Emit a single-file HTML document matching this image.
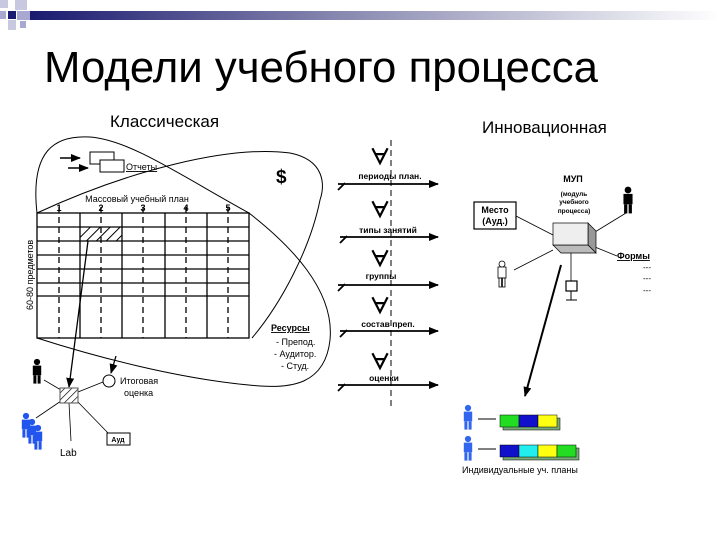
<!DOCTYPE html>
<html><head><meta charset="utf-8"><style>
html,body{margin:0;padding:0;background:#fff;}
svg{display:block;}
text{font-family:"Liberation Sans","Noto Sans CJK SC",sans-serif;}
</style></head><body>
<svg width="720" height="540" viewBox="0 0 720 540" xmlns="http://www.w3.org/2000/svg">
<defs>
<linearGradient id="bar" x1="0" x2="1" y1="0" y2="0">
<stop offset="0" stop-color="#1a1a70"/><stop offset="0.45" stop-color="#8888b0"/><stop offset="1" stop-color="#ffffff"/>
</linearGradient>
<pattern id="hatch" width="7" height="7" patternUnits="userSpaceOnUse" patternTransform="rotate(45)">
<rect width="7" height="7" fill="#fff"/><line x1="0" y1="0" x2="0" y2="7" stroke="#000" stroke-width="2"/>
</pattern>
<pattern id="hatch2" width="5" height="5" patternUnits="userSpaceOnUse" patternTransform="rotate(45)">
<rect width="5" height="5" fill="#fff"/><line x1="0" y1="0" x2="0" y2="5" stroke="#000" stroke-width="1.3"/>
</pattern>
<marker id="ar" markerWidth="10" markerHeight="8" refX="9" refY="4" orient="auto" markerUnits="userSpaceOnUse">
<path d="M0,0 L10,4 L0,8 z" fill="#000"/></marker>
<g id="pb"><circle cx="0" cy="-10" r="2.6"/><rect x="-3.5" y="-7" width="7" height="8"/><rect x="-3" y="1" width="2.5" height="7"/><rect x="0.5" y="1" width="2.5" height="7"/></g>
</defs>

<!-- header -->
<rect x="30" y="11" width="690" height="9" fill="url(#bar)"/>
<rect x="0" y="0" width="8" height="8" fill="#c8c8e0"/>
<rect x="15" y="0" width="12" height="10" fill="#c8c8e0"/>
<rect x="8" y="11" width="8" height="8" fill="#1a1a70"/>
<rect x="0" y="11" width="6" height="8" fill="#a8a8d0"/>
<rect x="17" y="11" width="13" height="9" fill="#a8a8d0"/>
<rect x="8" y="20" width="8" height="10" fill="#c8c8e0"/>
<rect x="20" y="21" width="6" height="7" fill="#a8a8d0"/>
<text x="44" y="82" font-size="44" fill="#000" textLength="554" lengthAdjust="spacingAndGlyphs">Модели учебного процесса</text>

<text x="110" y="127" font-size="17">Классическая</text>
<text x="482" y="133" font-size="17">Инновационная</text>

<!-- loops -->
<g fill="none" stroke="#000" stroke-width="1">
<path d="M37,213 C 30,150 55,135 90,137 C 130,140 180,175 249,213 C 290,245 335,290 330,340 C 325,385 290,388 260,386 C 180,380 90,355 37,338"/>
<path d="M37,213 C 130,170 230,145 290,153 C 325,160 325,185 320,200 C 310,250 280,305 252,338"/>
</g>

<!-- reports -->
<line x1="60" y1="158" x2="80" y2="158" stroke="#000" stroke-width="1.5" marker-end="url(#ar)"/>
<line x1="68" y1="168" x2="88" y2="168" stroke="#000" stroke-width="1.5" marker-end="url(#ar)"/>
<rect x="90" y="152" width="24" height="12" fill="#fff" stroke="#000"/>
<rect x="100" y="160" width="24" height="12" fill="#fff" stroke="#000"/>
<text x="126" y="170" font-size="9" text-decoration="underline">Отчеты</text>
<text x="276" y="183" font-size="19" font-weight="bold">$</text>

<!-- table -->
<text x="137" y="202" font-size="9" text-anchor="middle">Массовый учебный план</text>
<g font-size="9" font-weight="bold" text-anchor="middle">
<text x="59" y="211">1</text><text x="101" y="211">2</text><text x="143" y="211">3</text><text x="186" y="211">4</text><text x="228" y="211">5</text></g>
<rect x="37" y="213" width="212" height="125" fill="#fff" stroke="#000" stroke-width="1.3"/>
<rect x="80" y="227" width="42" height="14" fill="url(#hatch)" stroke="#000"/>
<g stroke="#000" stroke-width="1.3">
<line x1="80" y1="213" x2="80" y2="338"/><line x1="122" y1="213" x2="122" y2="338"/><line x1="165" y1="213" x2="165" y2="338"/><line x1="207" y1="213" x2="207" y2="338"/>
<line x1="37" y1="227" x2="249" y2="227"/><line x1="37" y1="241" x2="249" y2="241"/><line x1="37" y1="255" x2="249" y2="255"/><line x1="37" y1="269" x2="249" y2="269"/><line x1="37" y1="283" x2="249" y2="283"/><line x1="37" y1="296" x2="249" y2="296"/>
</g>
<g stroke="#000" stroke-width="1.3" stroke-dasharray="6,4">
<line x1="59" y1="207" x2="59" y2="338"/><line x1="101" y1="207" x2="101" y2="338"/><line x1="143" y1="207" x2="143" y2="338"/><line x1="186" y1="207" x2="186" y2="338"/><line x1="228" y1="207" x2="228" y2="338"/>
</g>
<text x="0" y="0" font-size="9" transform="translate(33,310) rotate(-90)">60-80 предметов</text>

<text x="271" y="331" font-size="9" font-weight="bold" text-decoration="underline">Ресурсы</text>
<text x="276" y="345" font-size="9">- Препод.</text>
<text x="274" y="357" font-size="9">- Аудитор.</text>
<text x="281" y="369" font-size="9">- Студ.</text>

<!-- bottom left -->
<line x1="88" y1="241" x2="69" y2="387" stroke="#000" stroke-width="1.3" marker-end="url(#ar)"/>
<line x1="116" y1="356" x2="111" y2="373" stroke="#000" stroke-width="1.3" marker-end="url(#ar)"/>
<g stroke="#000" stroke-width="0.8">
<line x1="44" y1="380" x2="61" y2="390"/><line x1="36" y1="418" x2="61" y2="401"/><line x1="69" y1="403" x2="71" y2="441"/><line x1="77" y1="401" x2="109" y2="434"/><line x1="78" y1="392" x2="103" y2="382"/>
</g>
<rect x="60" y="388" width="18" height="15" fill="url(#hatch2)" stroke="#555"/>
<circle cx="109" cy="381" r="6" fill="#fff" stroke="#000"/>
<text x="120" y="384" font-size="9">Итоговая</text>
<text x="124" y="396" font-size="9">оценка</text>
<rect x="107" y="433" width="23" height="12" fill="#fff" stroke="#000"/>
<text x="118" y="442" font-size="7" text-anchor="middle" font-weight="bold">Ауд</text>
<text x="60" y="456" font-size="10">Lab</text>
<g fill="#000" transform="translate(37,374) scale(1.2)"><use href="#pb"/></g>
<g fill="#2255ee"><g transform="translate(26,428) scale(1.2)"><use href="#pb"/></g><g transform="translate(32,434) scale(1.2)"><use href="#pb"/></g><g transform="translate(38,440) scale(1.2)"><use href="#pb"/></g></g>

<!-- middle -->
<line x1="391" y1="140" x2="391" y2="410" stroke="#000" stroke-dasharray="6,4"/>
<g stroke="#000" stroke-width="1.8">
<line x1="338" y1="184" x2="438" y2="184" marker-end="url(#ar)"/><line x1="338" y1="190" x2="345" y2="183"/>
<line x1="340" y1="237" x2="438" y2="237" marker-end="url(#ar)"/><line x1="340" y1="243" x2="347" y2="236"/>
<line x1="338" y1="285" x2="438" y2="285" marker-end="url(#ar)"/><line x1="338" y1="291" x2="345" y2="284"/>
<line x1="340" y1="331" x2="438" y2="331" marker-end="url(#ar)"/><line x1="340" y1="337" x2="347" y2="330"/>
<line x1="338" y1="385" x2="438" y2="385" marker-end="url(#ar)"/><line x1="338" y1="391" x2="345" y2="384"/>
</g>
<g font-size="22" font-weight="bold" text-anchor="middle">
<text x="380" y="165">∀</text><text x="380" y="218">∀</text><text x="380" y="267">∀</text><text x="380" y="314">∀</text><text x="380" y="370">∀</text></g>
<g font-size="8.5" font-weight="bold" text-anchor="middle">
<text x="390" y="179">периоды план.</text><text x="388" y="233">типы занятий</text><text x="381" y="279">группы</text><text x="388" y="327">состав преп.</text><text x="384" y="381">оценки</text></g>

<!-- right -->
<text x="573" y="182" font-size="9" font-weight="bold" text-anchor="middle">МУП</text>
<g font-size="6.5" font-weight="bold" text-anchor="middle"><text x="574" y="196">(модуль</text><text x="574" y="204">учебного</text><text x="574" y="213">процесса)</text></g>
<rect x="474" y="202" width="42" height="27" fill="#fff" stroke="#000" stroke-width="1.2"/>
<text x="495" y="213" font-size="9" font-weight="bold" text-anchor="middle">Место</text>
<text x="495" y="224" font-size="9" font-weight="bold" text-anchor="middle">(Ауд.)</text>
<g stroke="#000" stroke-width="0.8">
<line x1="516" y1="216" x2="553" y2="235"/><line x1="590" y1="235" x2="626" y2="213"/><line x1="590" y1="245" x2="617" y2="256"/><line x1="553" y1="250" x2="514" y2="270"/><line x1="571" y1="253" x2="571" y2="281"/>
</g>
<polygon points="588,223 596,231 596,253 588,245" fill="#999" stroke="#000" stroke-width="0.7"/>
<polygon points="553,245 588,245 596,253 561,253" fill="#bbb" stroke="#000" stroke-width="0.7"/>
<rect x="553" y="223" width="35" height="22" fill="#eee" stroke="#000" stroke-width="0.7"/>
<g fill="#000" transform="translate(628,203) scale(1.3)"><use href="#pb"/></g>
<g fill="#fff" stroke="#000" stroke-width="0.8"><circle cx="502" cy="264" r="3"/><rect x="498" y="267" width="8" height="11"/><rect x="499" y="278" width="2.5" height="9"/><rect x="502.5" y="278" width="2.5" height="9"/></g>
<rect x="566" y="281" width="11" height="10" fill="#fff" stroke="#000" stroke-width="1.2"/>
<line x1="571" y1="291" x2="571" y2="300" stroke="#000"/><line x1="566" y1="300" x2="577" y2="300" stroke="#000"/>
<text x="617" y="259" font-size="9" font-weight="bold" text-decoration="underline">Формы</text>
<g font-size="8"><text x="643" y="270">---</text><text x="643" y="281">---</text><text x="643" y="293">---</text></g>
<line x1="561" y1="265" x2="525" y2="396" stroke="#000" stroke-width="2" marker-end="url(#ar)"/>

<g fill="#3366ee"><g transform="translate(468,420) scale(1.2)"><use href="#pb"/></g><g transform="translate(468,451) scale(1.2)"><use href="#pb"/></g></g>
<line x1="478" y1="419" x2="496" y2="419" stroke="#000"/>
<line x1="478" y1="449" x2="496" y2="449" stroke="#000"/>
<g stroke="#000" stroke-width="0.5">
<rect x="503" y="418" width="57" height="12" fill="#7a7"/>
<rect x="500" y="415" width="19" height="12" fill="#22dd22"/><rect x="519" y="415" width="19" height="12" fill="#1111cc"/><rect x="538" y="415" width="19" height="12" fill="#ffff11"/>
<rect x="503" y="448" width="76" height="12" fill="#7a7"/>
<rect x="500" y="445" width="19" height="12" fill="#1111cc"/><rect x="519" y="445" width="19" height="12" fill="#22eeee"/><rect x="538" y="445" width="19" height="12" fill="#ffff11"/><rect x="557" y="445" width="19" height="12" fill="#22dd22"/>
</g>
<text x="462" y="473" font-size="9">Индивидуальные уч. планы</text>
</svg>
</body></html>
